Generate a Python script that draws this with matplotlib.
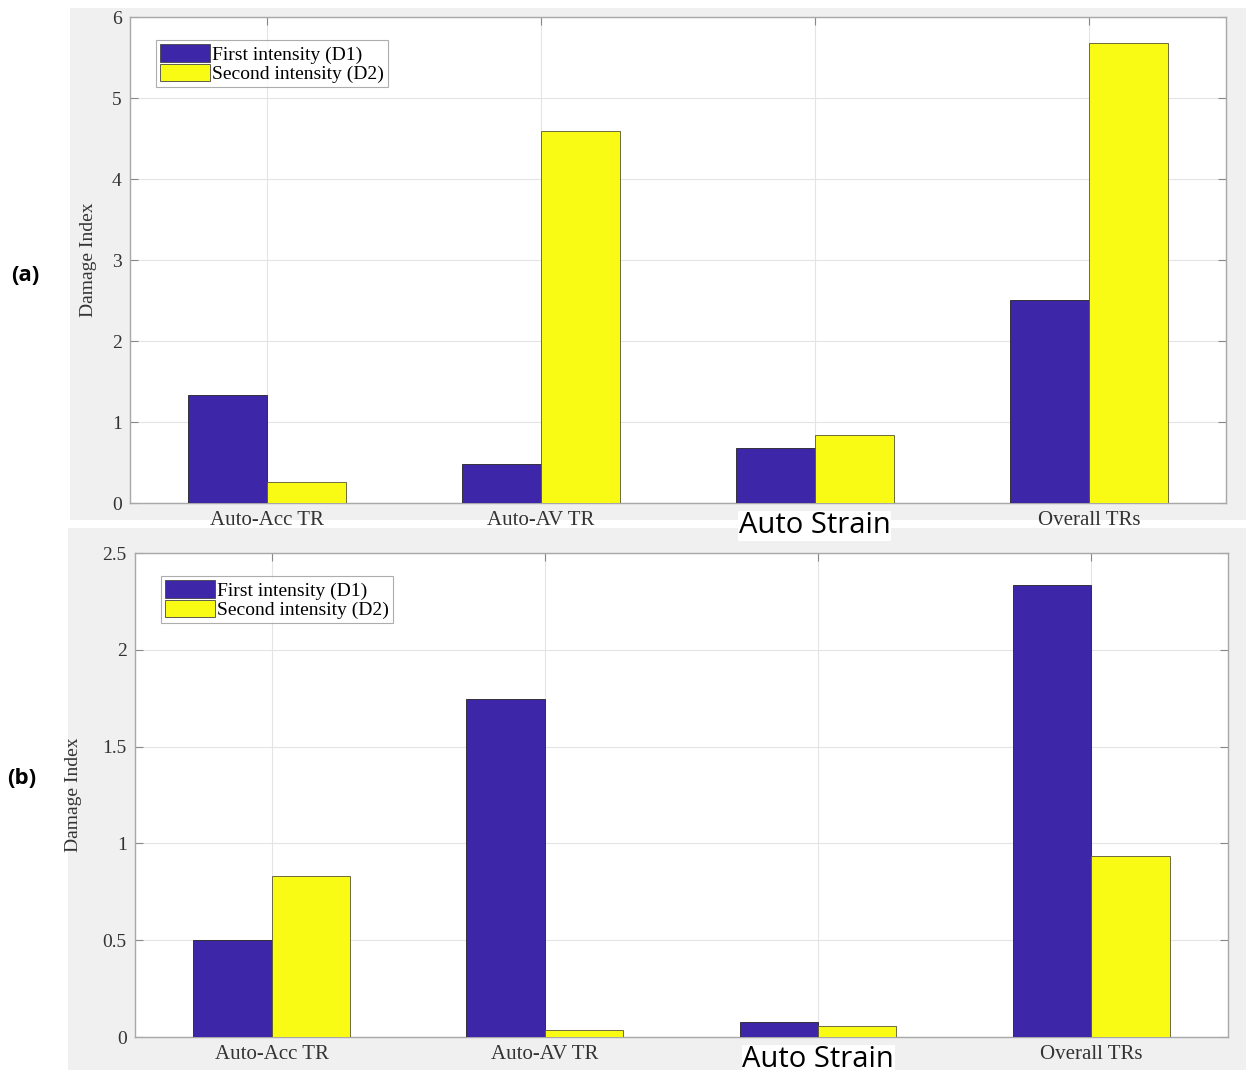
import matplotlib
matplotlib.use("Agg")
import matplotlib.pyplot as plt
import numpy as np
from matplotlib.patches import Rectangle

categories = ["Auto-Acc TR", "Auto-AV TR", "Auto Strain", "Overall TRs"]
series_names = ["First intensity (D1)", "Second intensity (D2)"]
a_d1 = [1.33, 0.48, 0.68, 2.51]
a_d2 = [0.26, 4.59, 0.84, 5.68]
b_d1 = [0.50, 1.745, 0.077, 2.335]
b_d2 = [0.83, 0.036, 0.057, 0.935]
a_yticks = [0, 1, 2, 3, 4, 5, 6]
b_yticks = [0, 0.5, 1, 1.5, 2, 2.5]
b_yticklabels = ["0", "0.5", "1", "1.5", "2", "2.5"]

c1 = "#3e26a8"
c2 = "#f9fb15"
serif = ["Liberation Serif", "DejaVu Serif"]

fig = plt.figure(figsize=(12.46, 10.76), dpi=100)
fig.patch.set_facecolor("white")
# gray figure panels
fig.add_artist(Rectangle((0.056, 0.517), 0.944, 0.476, transform=fig.transFigure,
                         facecolor="#f0f0f0", edgecolor="none", zorder=0))
fig.add_artist(Rectangle((0.0546, 0.006), 0.9454, 0.503, transform=fig.transFigure,
                         facecolor="#f0f0f0", edgecolor="none", zorder=0))

ax_a = fig.add_axes([0.1043, 0.5325, 0.8796, 0.4517])
ax_b = fig.add_axes([0.1083, 0.0362, 0.8772, 0.4498])

def draw(ax, d1, d2, yticks, yticklabels, ylim, ylab_x):
    x = np.arange(1, len(categories) + 1)
    w = 0.287
    ax.set_facecolor("white")
    ax.bar(x - w / 2, d1, w, color=c1, edgecolor="#222222", linewidth=0.6,
           label=series_names[0], zorder=3)
    ax.bar(x + w / 2, d2, w, color=c2, edgecolor="#555533", linewidth=0.6,
           label=series_names[1], zorder=3)
    ax.set_xlim(0.5, 4.5)
    ax.set_ylim(*ylim)
    ax.set_yticks(yticks)
    ax.set_yticklabels(yticklabels, fontfamily=serif, fontsize=14, color="#333333")
    ax.set_xticks(x)
    ax.set_xticklabels(categories, fontfamily=serif, fontsize=15, color="#333333")
    for lab in ax.get_xticklabels():
        if lab.get_text() == "Auto Strain":
            lab.set_fontfamily(["Open Sans", "DejaVu Sans"])
            lab.set_fontsize(21)
            lab.set_color("black")
            lab.set_bbox(dict(facecolor="white", edgecolor="none", pad=0.5))
    ax.grid(True, color="#e4e4e4", linewidth=0.8, zorder=0)
    ax.set_axisbelow(True)
    ax.tick_params(direction="in", length=6, color="#888888", top=True, right=True,
                   width=0.8)
    ax.tick_params(axis="x", pad=6)
    ax.tick_params(axis="y", pad=6)
    for s in ax.spines.values():
        s.set_color("#a8a8a8")
        s.set_linewidth(1.0)
    ax.set_ylabel("Damage Index", fontfamily=serif, fontsize=14, color="#333333")
    ax.yaxis.set_label_coords(ylab_x, 0.5)
    leg = ax.legend(loc="upper left", bbox_to_anchor=(0.02, 0.96), prop={"family": serif, "size": 14},
                    frameon=True, fancybox=False, borderpad=0.2, handlelength=2.6,
                    handleheight=1.0, handletextpad=0.1, labelspacing=0.0,
                    borderaxespad=0.2)
    leg.get_frame().set_edgecolor("#999999")
    leg.get_frame().set_linewidth(0.8)
    for h in leg.legend_handles:
        h.set_edgecolor("#444444")

draw(ax_a, a_d1, a_d2, a_yticks, [str(t) for t in a_yticks], (0, 6), -0.03)
draw(ax_b, b_d1, b_d2, b_yticks, b_yticklabels, (0, 2.5), -0.048)

fig.text(25 / 1246, 1 - 275 / 1076, "(a)", fontsize=16, fontweight="bold",
         ha="center", va="center", fontfamily=["Open Sans", "DejaVu Sans"])
fig.text(22 / 1246, 1 - 778 / 1076, "(b)", fontsize=16, fontweight="bold",
         ha="center", va="center", fontfamily=["Open Sans", "DejaVu Sans"])

fig.savefig("out.png", dpi=100, facecolor="white")
